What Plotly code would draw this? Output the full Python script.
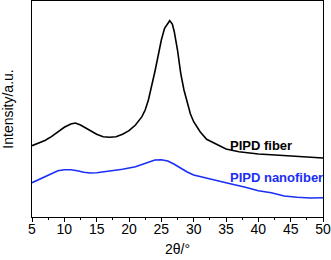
import plotly.graph_objects as go

# 2theta (degrees) and intensity (arbitrary units)
fiber_x = [5, 6, 7, 8, 9, 10, 11, 11.7, 12.5, 13, 14, 15, 16, 17, 18, 19, 20, 21, 22, 22.5, 23, 23.5, 24, 24.5,
           25, 25.5, 26, 26.3, 26.7, 27, 27.5, 28, 28.5, 29, 29.5, 30, 31, 32, 33, 34, 35, 37, 40, 42, 45, 48, 50]
fiber_y = [70.3, 72.7, 75.5, 79.3, 84.3, 88.7, 92, 93, 91, 89, 85.3, 81.7, 79.3, 78.7, 79.3, 81.7, 85.3, 91, 99.3, 106,
           116, 129, 144.3, 160, 176, 187.7, 193.3, 195.3, 192, 184.3, 166, 142.7, 126, 112.7, 102, 94.3, 84.3, 76.7,
           73.3, 70, 67, 64.3, 62, 61.3, 60, 59, 58]

nano_x = [5, 6, 7, 8, 9, 10, 11, 12, 13, 14, 15, 17, 19, 21, 22, 23, 24, 25, 26, 27, 28, 29, 30, 32, 35, 38, 40,
          42, 44, 46, 48, 50]
nano_y = [33.3, 36.5, 39.3, 42.7, 45.3, 46.3, 46.3, 45.3, 43.7, 43, 43.3, 45, 46.7, 49.3, 51.3, 54, 56, 56.3, 55,
          51.7, 47.7, 44, 41, 37.7, 33.3, 28.7, 25.3, 23.3, 20, 18.7, 18, 18.3]

x_ticks = [5, 10, 15, 20, 25, 30, 35, 40, 45, 50]
labels = ["PIPD fiber", "PIPD nanofiber"]
label_pos = [(35.3, 71), (35.3, 39)]
colors = ["#000000", "#1a2ef5"]

fig = go.Figure()
fig.add_trace(go.Scatter(x=fiber_x, y=fiber_y, mode="lines", line=dict(color=colors[0], width=1.6), showlegend=False))
fig.add_trace(go.Scatter(x=nano_x, y=nano_y, mode="lines", line=dict(color=colors[1], width=1.6), showlegend=False))

for lab, (lx, ly), c in zip(labels, label_pos, colors):
    fig.add_annotation(x=lx, y=ly, text="<b>%s</b>" % lab, showarrow=False, xanchor="left", yanchor="middle",
                       font=dict(family="Liberation Sans, Arial", size=13, color=c))

fig.update_layout(
    width=331, height=260,
    margin=dict(l=32, r=8, t=1, b=43, autoexpand=False),
    paper_bgcolor="white", plot_bgcolor="white",
    font=dict(family="Liberation Sans, Arial", size=14, color="black"),
    xaxis=dict(range=[5, 50], tickvals=x_ticks, ticks="outside", ticklen=4, tickwidth=1, tickcolor="black",
               showline=True, linecolor="black", linewidth=1.2, mirror=True, showgrid=False, zeroline=False,
               minor=dict(dtick=2.5, tick0=5, ticks="outside", ticklen=2, tickcolor="black"),
               title=dict(text="2θ/°", font=dict(size=14), standoff=8),
               tickfont=dict(size=14), ticklabeloverflow="allow", ticklabelstandoff=-5),
    yaxis=dict(range=[-1, 215], showticklabels=False, ticks="", showline=True, linecolor="black", linewidth=1.2,
               mirror=True, showgrid=False, zeroline=False,
               title=dict(text="Intensity/a.u.", font=dict(size=14), standoff=17)),
)

fig.write_html("out.html", config={"displayModeBar": False},
               post_script="document.body.style.margin='0';document.body.style.overflow='hidden';")
